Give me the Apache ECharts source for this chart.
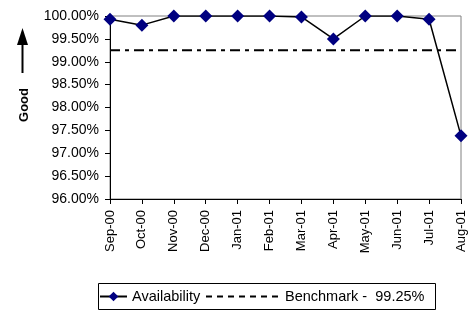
<!DOCTYPE html>
<html>
<head>
<meta charset="utf-8">
<script src="https://cdn.jsdelivr.net/npm/echarts@6/dist/echarts.min.js"></script>
<style>
html, body { margin: 0; padding: 0; background: #fff; }
#chart { width: 475px; height: 318px; }
</style>
</head>
<body>
<div id="chart"></div>
<script>
// 月份
var months = ['Sep-00', 'Oct-00', 'Nov-00', 'Dec-00', 'Jan-01', 'Feb-01', 'Mar-01', 'Apr-01', 'May-01', 'Jun-01', 'Jul-01', 'Aug-01'];
// 可用率 (%)
var availability = [99.93, 99.80, 100.00, 100.00, 100.00, 100.00, 99.98, 99.50, 100.00, 100.00, 99.93, 97.38];
// 基准线
var benchmark = 99.25;
var benchmarkName = 'Benchmark -  99.25%';
var benchmarkData = [];
for (var i = 0; i < months.length; i++) {
	benchmarkData.push(benchmark);
}

var chart = echarts.init(document.getElementById('chart'));
var font = 'Liberation Sans, Arial, sans-serif';
var legendText = { color : '#000', fontFamily : font, fontSize : 14.5 };

var option = {
	animation : false,
	grid : {
		left : 110,
		right : 14,
		top : 16,
		bottom : 119,
		show : true,
		borderColor : '#808080',
		borderWidth : 1
	},
	xAxis : {
		type : 'category',
		data : months,
		boundaryGap : false,
		axisLine : { lineStyle : { color : '#000', width : 1 } },
		axisTick : { alignWithLabel : true, length : 5, lineStyle : { color : '#000' } },
		axisLabel : {
			rotate : 90,
			color : '#000',
			fontFamily : font,
			fontSize : 13,
			margin : 11,
			interval : 0
		}
	},
	yAxis : {
		type : 'value',
		min : 96,
		max : 100,
		interval : 0.5,
		splitLine : { show : false },
		axisLine : { show : true, lineStyle : { color : '#000', width : 1 } },
		axisTick : { show : true, length : 5, lineStyle : { color : '#000' } },
		axisLabel : {
			color : '#000',
			fontFamily : font,
			fontSize : 14,
			margin : 11,
			formatter : function(v) { return v.toFixed(2) + '%'; }
		}
	},
	// 两个图例分开放，图标宽度不同
	legend : [
		{
			left : 99,
			top : 289,
			padding : 0,
			itemWidth : 27,
			itemHeight : 12,
			textStyle : legendText,
			data : ['Availability']
		},
		{
			left : 205,
			top : 289,
			padding : 0,
			itemWidth : 74,
			itemHeight : 12,
			textStyle : legendText,
			data : [{
				name : benchmarkName,
				itemStyle : { opacity : 0 },
				lineStyle : { type : [6, 5], width : 2, color : '#000' }
			}]
		}
	],
	graphic : [
		{
			type : 'rect',
			shape : { x : 98.5, y : 283.5, width : 337, height : 26 },
			style : { fill : 'none', stroke : '#000', lineWidth : 1 }
		},
		{
			type : 'line',
			shape : { x1 : 22.5, y1 : 73, x2 : 22.5, y2 : 42 },
			style : { stroke : '#000', lineWidth : 2 }
		},
		{
			type : 'polygon',
			shape : { points : [[17, 45], [28, 45], [22.5, 28]] },
			style : { fill : '#000' }
		},
		{
			type : 'text',
			x : 24,
			y : 105,
			rotation : Math.PI / 2,
			style : {
				text : 'Good',
				fill : '#000',
				font : 'bold 13px ' + font,
				align : 'center',
				verticalAlign : 'middle'
			}
		}
	],
	series : [
		{
			name : 'Availability',
			type : 'line',
			data : availability,
			symbol : 'diamond',
			symbolSize : 13,
			z : 3,
			lineStyle : { color : '#000', width : 1.5 },
			itemStyle : { color : '#000080' }
		},
		{
			name : benchmarkName,
			type : 'line',
			data : benchmarkData,
			symbol : 'none',
			z : 2,
			lineStyle : { color : '#000', width : 2, type : [10, 5, 4, 5] },
			itemStyle : { color : '#000' }
		}
	]
};
chart.setOption(option);
</script>
</body>
</html>
